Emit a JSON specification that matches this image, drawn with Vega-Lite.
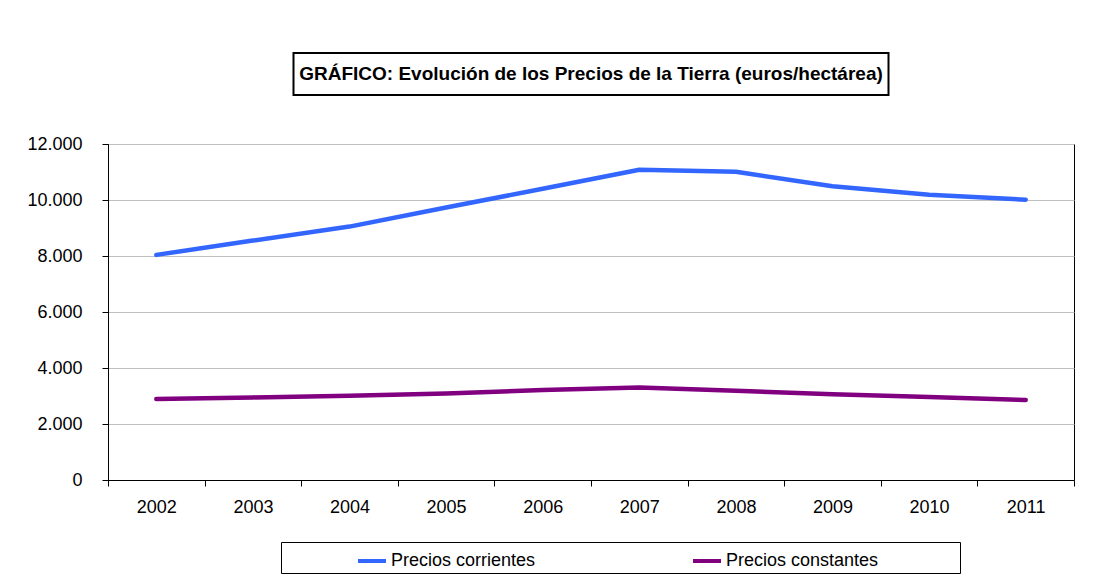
{
  "$schema": "https://vega.github.io/schema/vega-lite/v6.json",
  "background": "white",
  "padding": {"left": 26, "top": 52, "right": 30, "bottom": 6},
  "config": {
    "font": "Liberation Sans",
    "axis": {"labelFont": "Liberation Sans", "labelColor": "black", "domainColor": "black", "tickColor": "black"},
    "legend": {"labelFont": "Liberation Sans", "labelColor": "black"}
  },
  "spacing": 49,
  "center": true,
  "bounds": "flush",
  "vconcat": [
    {
      "width": 595,
      "height": 42,
      "view": {"stroke": "black", "strokeWidth": 2},
      "data": {"values": [{"t": "GRÁFICO: Evolución de los Precios de la Tierra (euros/hectárea)"}]},
      "mark": {"type": "text", "fontWeight": "bold", "fontSize": 19, "font": "Liberation Sans", "color": "black"},
      "encoding": {"text": {"field": "t"}}
    },
    {
      "width": 966,
      "height": 336,
      "view": {"stroke": "black", "strokeWidth": 1},
      "data": {
        "values": [
          {"year": "2002", "serie": "Precios corrientes", "value": 8040},
          {"year": "2003", "serie": "Precios corrientes", "value": 8550},
          {"year": "2004", "serie": "Precios corrientes", "value": 9050},
          {"year": "2005", "serie": "Precios corrientes", "value": 9730},
          {"year": "2006", "serie": "Precios corrientes", "value": 10400},
          {"year": "2007", "serie": "Precios corrientes", "value": 11080},
          {"year": "2008", "serie": "Precios corrientes", "value": 11010},
          {"year": "2009", "serie": "Precios corrientes", "value": 10490},
          {"year": "2010", "serie": "Precios corrientes", "value": 10190},
          {"year": "2011", "serie": "Precios corrientes", "value": 10010},
          {"year": "2002", "serie": "Precios constantes", "value": 2890},
          {"year": "2003", "serie": "Precios constantes", "value": 2950},
          {"year": "2004", "serie": "Precios constantes", "value": 3010},
          {"year": "2005", "serie": "Precios constantes", "value": 3090},
          {"year": "2006", "serie": "Precios constantes", "value": 3210},
          {"year": "2007", "serie": "Precios constantes", "value": 3300},
          {"year": "2008", "serie": "Precios constantes", "value": 3190},
          {"year": "2009", "serie": "Precios constantes", "value": 3060},
          {"year": "2010", "serie": "Precios constantes", "value": 2960},
          {"year": "2011", "serie": "Precios constantes", "value": 2860}
        ]
      },
      "mark": {"type": "line", "strokeWidth": 4.5, "strokeCap": "round", "strokeJoin": "round"},
      "encoding": {
        "x": {
          "field": "year",
          "type": "ordinal",
          "scale": {"type": "band", "paddingInner": 0, "paddingOuter": 0},
          "axis": {"title": null, "labelAngle": 0, "tickBand": "extent", "tickSize": 6, "labelPadding": 12, "labelFontSize": 18, "grid": false}
        },
        "y": {
          "field": "value",
          "type": "quantitative",
          "scale": {"domain": [0, 12000], "nice": false},
          "axis": {
            "title": null,
            "values": [0, 2000, 4000, 6000, 8000, 10000, 12000],
            "labelExpr": "replace(format(datum.value, ','), ',', '.')",
            "tickSize": 6,
            "labelPadding": 20,
            "labelFontSize": 18,
            "grid": true,
            "gridColor": "#c0c0c0",
            "gridWidth": 1
          }
        },
        "color": {
          "field": "serie",
          "type": "nominal",
          "sort": ["Precios corrientes", "Precios constantes"],
          "scale": {"domain": ["Precios corrientes", "Precios constantes"], "range": ["#3366FF", "#800080"]},
          "legend": {
            "title": null,
            "orient": "none",
            "legendX": 173,
            "legendY": 489,
            "direction": "horizontal",
            "columns": 2,
            "strokeColor": "black",
            "fillColor": "white",
            "padding": 3,
            "symbolType": "stroke",
            "symbolStrokeWidth": 4,
            "symbolSize": 784,
            "symbolOffset": 72,
            "labelOffset": 3,
            "columnPadding": 5,
            "labelFontSize": 18,
            "labelLimit": 0,
            "labelExpr": "datum.label + '\u2800\u2800\u2800\u2800\u2800\u2800'"
          }
        }
      }
    }
  ]
}
